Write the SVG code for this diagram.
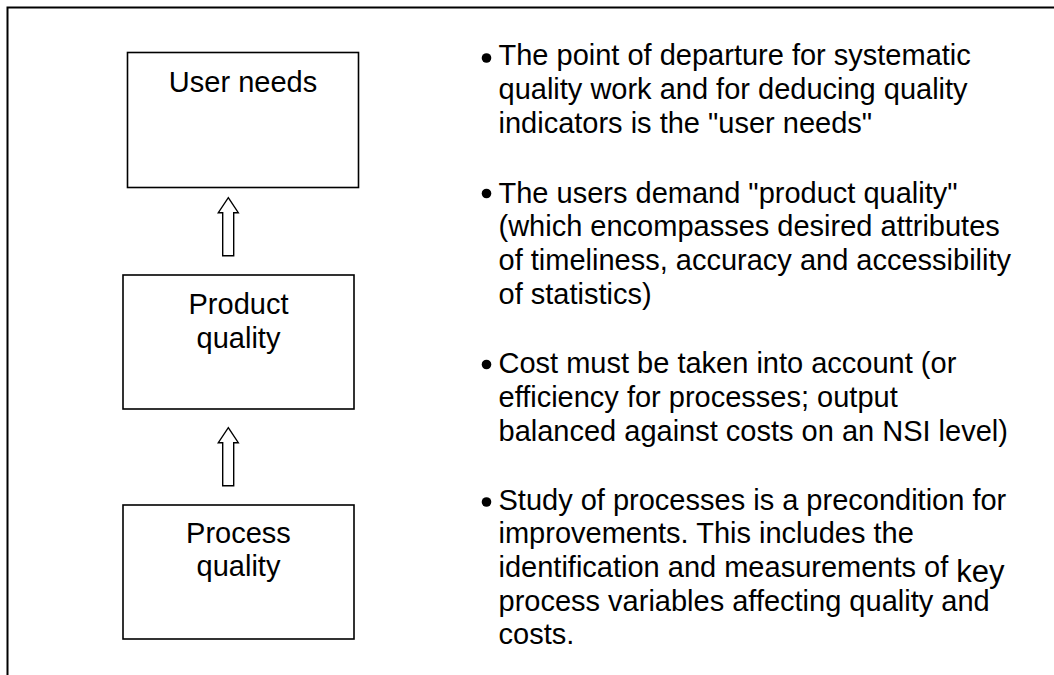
<svg xmlns="http://www.w3.org/2000/svg" width="1054" height="675" viewBox="0 0 1054 675">
<style>
.box{fill:#fff;stroke:#000;stroke-width:1.6}
.frame{fill:none;stroke:#000;stroke-width:2}
.arrow{fill:#fff;stroke:#000;stroke-width:1.4;stroke-linejoin:miter}
.lbl{font-family:"Liberation Sans",Arial,sans-serif;font-size:29px;fill:#000;text-anchor:middle}
.txt{font-family:"Liberation Sans",Arial,sans-serif;font-size:29px;fill:#000}
.dot{fill:#000}
</style>
<rect width="1054" height="675" fill="#fff"/>
<path class="frame" d="M7.5,675 V7.5 H1054"/>
<g id="node-user-needs">
<rect class="box" x="127.5" y="52.5" width="231" height="135"/>
<text class="lbl" x="243" y="92">User needs</text>
</g>
<g id="node-product-quality">
<rect class="box" x="123" y="275" width="231" height="134"/>
<text class="lbl" x="238.5" y="313.5">Product</text>
<text class="lbl" x="238.5" y="347.5">quality</text>
</g>
<g id="node-process-quality">
<rect class="box" x="123" y="505" width="231" height="134"/>
<text class="lbl" x="238.5" y="542.5">Process</text>
<text class="lbl" x="238.5" y="576">quality</text>
</g>
<g id="connectors">
<path class="arrow" d="M228.3,197.7 L238.3,212.7 L233.7,212.7 L233.7,255.7 L222.7,255.7 L222.7,212.7 L218.3,212.7 Z"/>
<path class="arrow" d="M228.3,427.7 L238.3,442.7 L233.7,442.7 L233.7,485.7 L222.7,485.7 L222.7,442.7 L218.3,442.7 Z"/>
</g>
<g id="bullets">
<circle class="dot" cx="486.5" cy="58" r="4.8"/>
<text class="txt" x="498.5" y="65">The point of departure for systematic</text>
<text class="txt" x="498.5" y="98.5">quality work and for deducing quality</text>
<text class="txt" x="498.5" y="132.5">indicators is the "user needs"</text>
<circle class="dot" cx="486.5" cy="193.5" r="4.8"/>
<text class="txt" x="498.5" y="202.5">The users demand "product quality"</text>
<text class="txt" x="498.5" y="236">(which encompasses desired attributes</text>
<text class="txt" x="498.5" y="269.5">of timeliness, accuracy and accessibility</text>
<text class="txt" x="498.5" y="304">of statistics)</text>
<circle class="dot" cx="486.5" cy="364.5" r="4.8"/>
<text class="txt" x="498.5" y="372.5">Cost must be taken into account (or</text>
<text class="txt" x="498.5" y="406.5">efficiency for processes; output</text>
<text class="txt" x="498.5" y="440.5">balanced against costs on an NSI level)</text>
<circle class="dot" cx="486.5" cy="502" r="4.8"/>
<text class="txt" x="498.5" y="509.5">Study of processes is a precondition for</text>
<text class="txt" x="498.5" y="543.3">improvements. This includes the</text>
<text class="txt" x="498.5" y="577.3">identification and measurements of <tspan font-size="31" dy="5">key</tspan></text>
<text class="txt" x="498.5" y="610.5">process variables affecting quality and</text>
<text class="txt" x="498.5" y="644">costs.</text>
</g>
</svg>
